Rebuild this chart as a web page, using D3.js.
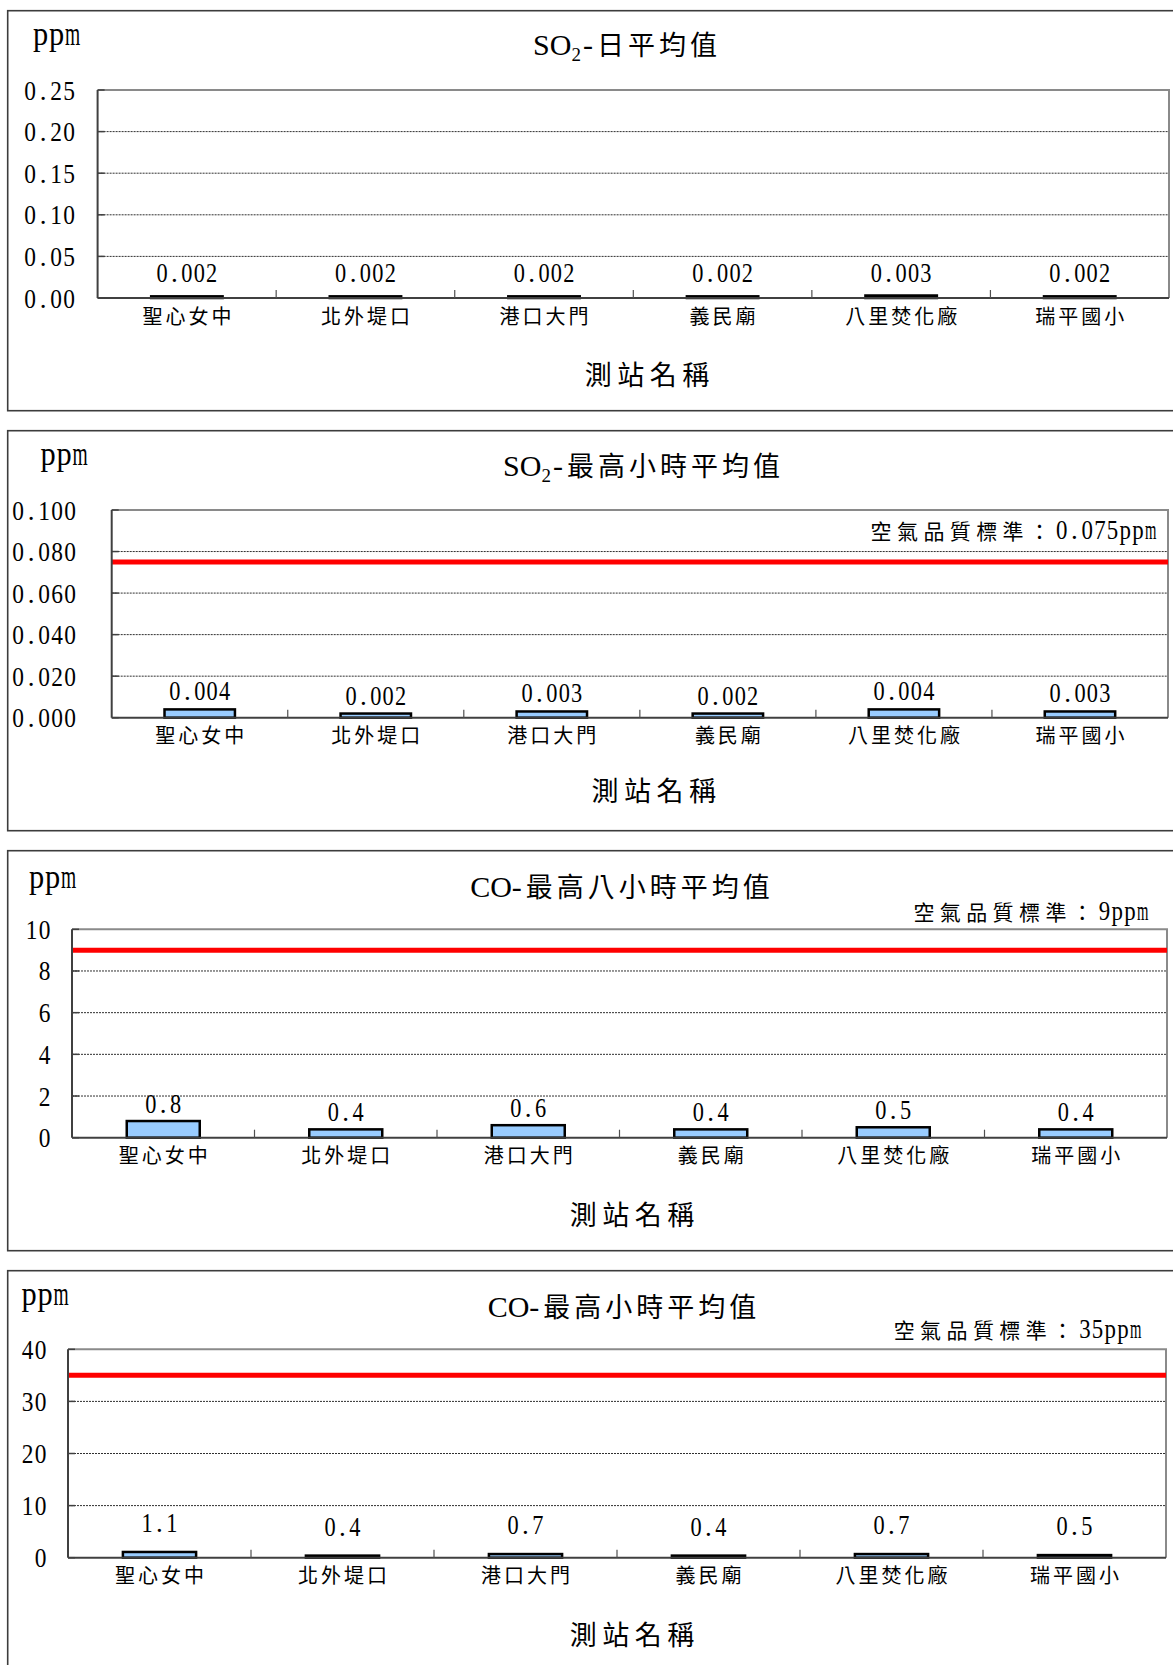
<!DOCTYPE html>
<html>
<head>
<meta charset="utf-8">
<script src="https://cdn.jsdelivr.net/npm/d3@7"></script>
<style>
  html, body { margin: 0; padding: 0; background: #fff; }
  svg { display: block; }
</style>
</head>
<body>
<svg id="chart" width="1173" height="1665"></svg>
<script>
// Monitoring stations (x categories shared by all four panels)
const stations = ['聖心女中', '北外堤口', '港口大門', '義民廟', '八里焚化廠', '瑞平國小'];

// Measured concentrations, ppm
const so2Daily   = [0.002, 0.002, 0.002, 0.002, 0.003, 0.002];
const so2MaxHour = [0.004, 0.002, 0.003, 0.002, 0.004, 0.003];
const coMax8h    = [0.8, 0.4, 0.6, 0.4, 0.5, 0.4];
const coMaxHour  = [1.1, 0.4, 0.7, 0.4, 0.7, 0.5];

// Y axis ticks per panel
const so2DailyTicks   = [0, 0.05, 0.10, 0.15, 0.20, 0.25];
const so2MaxHourTicks = [0, 0.02, 0.04, 0.06, 0.08, 0.10];
const coMax8hTicks    = [0, 2, 4, 6, 8, 10];
const coMaxHourTicks  = [0, 10, 20, 30, 40];

// Air quality standards (ppm)
const so2HourStandard = 0.075;
const co8hStandard    = 9;
const coHourStandard  = 35;

const CJK = '"Noto Sans CJK TC", "Noto Sans CJK SC", sans-serif';
const SERIF = '"Liberation Serif", "DejaVu Serif", serif';

const svg = d3.select('#chart');

// One <text> built from pieces laid side by side. Grid pieces sit on a
// half-width grid (one cell per character, letters narrowed to fit the cell);
// CJK and plain pieces keep their own advance. Anchored at (x, y).
function richText(parent, runs, x, y, anchor) {
  const t = parent.append('text').attr('fill', '#000');
  let cx = 0;
  let trailing = 0;
  runs.forEach(r => {
    if (r.cjk || r.plain) {
      const s = t.append('tspan')
        .attr('x', cx).attr('y', r.dy || 0)
        .style('font-family', r.cjk ? CJK : SERIF).style('font-size', r.size + 'px')
        .style('letter-spacing', (r.ls || 0) + 'px')
        .text(r.text);
      cx += s.node().getComputedTextLength() + (r.gap || 0);
      trailing = r.ls || 0;
    } else {
      Array.from(r.text).forEach((ch, k) => {
        const cell = cx + k * r.cw;
        const s = t.append('tspan')
          .attr('y', r.dy || 0)
          .style('font-family', SERIF).style('font-size', r.size + 'px')
          .text(ch);
        let w;
        if (/[0-9A-Za-z]/.test(ch)) {
          w = r.cw * (r.sq || 0.9);
          s.attr('textLength', w).attr('lengthAdjust', 'spacingAndGlyphs');
        } else {
          w = Math.min(s.node().getComputedTextLength(), r.cw);
        }
        s.attr('x', cell + (r.cw - w) / 2);
      });
      cx += r.text.length * r.cw;
      trailing = 0;
    }
  });
  const total = cx - trailing;
  const off = anchor === 'middle' ? -total / 2 : anchor === 'end' ? -total : 0;
  t.attr('transform', `translate(${x + off},${y})`);
  return t;
}

const latinTitle = (s) => ({ text: s, plain: true, size: 30 });
const subTitle = (s) => ({ text: s, plain: true, size: 19, dy: 6, gap: 2 });
const hyphen = () => ({ text: '-', plain: true, size: 30, gap: 4 });
const cjkTitle = (s) => ({ text: s, cjk: true, size: 27, ls: 4 });

const panels = [
  {
    values: so2Daily, ticks: so2DailyTicks, domain: [0, 0.25],
    tickFmt: d3.format('.2f'), valFmt: d3.format('.3f'),
    title: [latinTitle('SO'), subTitle('2'), hyphen(), cjkTitle('日平均值')],
    standard: null,
    top: 10.7, left: 97.6, right: 1169, plotTop: 90, plotBottom: 298,
    tickRight: 75.5, titleX: 625, titleY: 54.5, ppmX: 32.5, ppmY: 45,
    axisTitleX: 647, axisTitleY: 384.5, valOff: 14
  },
  {
    values: so2MaxHour, ticks: so2MaxHourTicks, domain: [0, 0.10],
    tickFmt: d3.format('.3f'), valFmt: d3.format('.3f'),
    title: [latinTitle('SO'), subTitle('2'), hyphen(), cjkTitle('最高小時平均值')],
    standard: { value: so2HourStandard, text: '0.075ppm', right: 1157, y: 539 },
    top: 430.7, left: 111.7, right: 1168, plotTop: 510, plotBottom: 717.7,
    tickRight: 76.5, titleX: 641.5, titleY: 475.5, ppmX: 40, ppmY: 465,
    axisTitleX: 653.7, axisTitleY: 801, valOff: 9
  },
  {
    values: coMax8h, ticks: coMax8hTicks, domain: [0, 10],
    tickFmt: d3.format('d'), valFmt: d3.format('.1f'),
    title: [latinTitle('CO'), hyphen(), cjkTitle('最高八小時平均值')],
    standard: { value: co8hStandard, text: '9ppm', right: 1149, y: 920 },
    top: 850.7, left: 72, right: 1167, plotTop: 929.3, plotBottom: 1137.7,
    tickRight: 51, titleX: 620, titleY: 897, ppmX: 28.7, ppmY: 888,
    axisTitleX: 632, axisTitleY: 1224.5, valOff: 8
  },
  {
    values: coMaxHour, ticks: coMaxHourTicks, domain: [0, 40],
    tickFmt: d3.format('d'), valFmt: d3.format('.1f'),
    title: [latinTitle('CO'), hyphen(), cjkTitle('最高小時平均值')],
    standard: { value: coHourStandard, text: '35ppm', right: 1142, y: 1338 },
    top: 1270.7, left: 68, right: 1166, plotTop: 1349.3, plotBottom: 1557.7,
    tickRight: 47, titleX: 622, titleY: 1316.5, ppmX: 21, ppmY: 1305,
    axisTitleX: 632, axisTitleY: 1644.5, valOff: 20
  }
];

panels.forEach(p => {
  const g = svg.append('g');

  // chart frame
  g.append('rect')
    .attr('x', 7.7).attr('y', p.top)
    .attr('width', 1200).attr('height', 400)
    .attr('fill', '#fff').attr('stroke', '#3c3c3c').attr('stroke-width', 1.6);

  const x = d3.scaleBand()
    .domain(stations)
    .range([p.left, p.right])
    .paddingInner(0.6).paddingOuter(0.3);
  const y = d3.scaleLinear().domain(p.domain).range([p.plotBottom, p.plotTop]);

  // dotted gridlines
  g.append('g').selectAll('line')
    .data(p.ticks.filter(t => t > p.domain[0] && t < p.domain[1]))
    .join('line')
    .attr('x1', p.left).attr('x2', p.right)
    .attr('y1', d => y(d)).attr('y2', d => y(d))
    .attr('stroke', '#303030').attr('stroke-width', 1)
    .attr('stroke-dasharray', '2,1');

  // plot area outline (top and right)
  g.append('path')
    .attr('d', `M${p.left},${p.plotTop}H${p.right}V${p.plotBottom}`)
    .attr('fill', 'none').attr('stroke', '#8a8a8a').attr('stroke-width', 2);

  // standard line
  if (p.standard) {
    g.append('line')
      .attr('x1', p.left).attr('x2', p.right)
      .attr('y1', y(p.standard.value)).attr('y2', y(p.standard.value))
      .attr('stroke', '#ff0000').attr('stroke-width', 5);
  }

  // bars
  g.append('g').selectAll('rect')
    .data(p.values)
    .join('rect')
    .attr('x', (d, i) => x(stations[i]))
    .attr('width', x.bandwidth())
    .attr('y', d => y(d))
    .attr('height', d => y(0) - y(d))
    .attr('fill', '#99ccff').attr('stroke', '#000').attr('stroke-width', 2.5);

  // y axis and x axis lines
  g.append('line')
    .attr('x1', p.left).attr('x2', p.left)
    .attr('y1', p.plotTop).attr('y2', p.plotBottom)
    .attr('stroke', '#404040').attr('stroke-width', 2);
  g.append('line')
    .attr('x1', p.left).attr('x2', p.right)
    .attr('y1', p.plotBottom).attr('y2', p.plotBottom)
    .attr('stroke', '#404040').attr('stroke-width', 2);

  // y ticks (inside)
  g.append('g').selectAll('line')
    .data(p.ticks)
    .join('line')
    .attr('x1', p.left).attr('x2', p.left + 7)
    .attr('y1', d => y(d)).attr('y2', d => y(d))
    .attr('stroke', '#404040').attr('stroke-width', 1.5);

  // x category dividers (inside ticks)
  const step = x.step();
  g.append('g').selectAll('line')
    .data(d3.range(1, stations.length))
    .join('line')
    .attr('x1', i => p.left + i * step).attr('x2', i => p.left + i * step)
    .attr('y1', p.plotBottom).attr('y2', p.plotBottom - 8)
    .attr('stroke', '#505050').attr('stroke-width', 1.2);

  // y tick labels
  p.ticks.forEach(t => {
    richText(g, [{ text: p.tickFmt(t), size: 27, cw: 13 }], p.tickRight, y(t) + 9.5, 'end');
  });

  // value labels
  p.values.forEach((v, i) => {
    const cx = x(stations[i]) + x.bandwidth() / 2;
    richText(g, [{ text: p.valFmt(v), size: 27, cw: 12.4 }], cx, y(v) - p.valOff, 'middle');
  });

  // category labels
  stations.forEach(s => {
    const cx = x(s) + x.bandwidth() / 2;
    richText(g, [{ text: s, cjk: true, size: 20, ls: 3 }], cx, p.plotBottom + 25.5, 'middle');
  });

  // axis title
  richText(g, [{ text: '測站名稱', cjk: true, size: 27, ls: 5.5 }], p.axisTitleX, p.axisTitleY, 'middle');

  // unit
  richText(g, [{ text: 'ppm', size: 34, cw: 16, sq: 0.95 }], p.ppmX, p.ppmY, 'start');

  // chart title
  richText(g, p.title, p.titleX, p.titleY, 'middle');

  // standard annotation
  if (p.standard) {
    richText(g, [
      { text: '空氣品質標準：', cjk: true, size: 21, ls: 5.4 },
      { text: p.standard.text, size: 27, cw: 12.7 }
    ], p.standard.right, p.standard.y, 'end');
  }
});
</script>
</body>
</html>
